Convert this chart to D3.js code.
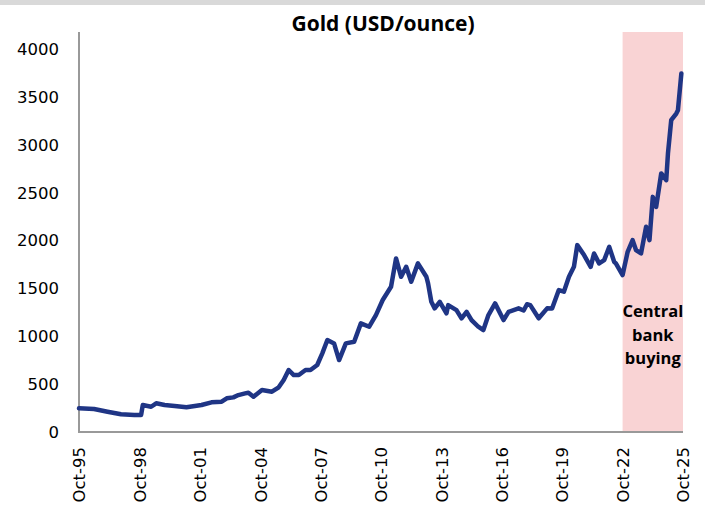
<!DOCTYPE html>
<html>
<head>
<meta charset="utf-8">
<script src="https://cdn.jsdelivr.net/npm/d3@7"></script>
<style>
  body { margin: 0; background: #fff; }
  svg { display: block; }
  .tick text { font-family: "DejaVu Sans", Verdana, sans-serif; fill: #000; }
</style>
</head>
<body>
<svg id="chart" width="705" height="506"></svg>
<script>
// Gold price, USD/ounce
const dates = [
  "1995-10","1996-07","1997-03","1997-11","1998-07","1998-11","1998-12","1999-05","1999-08","2000-01",
  "2000-07","2001-02","2001-11","2002-05","2002-11","2003-02","2003-06","2003-09","2004-01","2004-03",
  "2004-06","2004-11","2005-05","2005-09","2005-12","2006-03","2006-06","2006-09","2007-01","2007-04",
  "2007-08","2007-11","2008-02","2008-06","2008-09","2009-01","2009-06","2009-10","2010-03","2010-07",
  "2010-11","2011-04","2011-07","2011-10","2012-01","2012-04","2012-08","2013-01","2013-02","2013-04",
  "2013-06","2013-09","2014-01","2014-02","2014-07","2014-10","2015-01","2015-04","2015-08","2015-11",
  "2016-02","2016-06","2016-11","2017-02","2017-08","2017-11","2018-01","2018-03","2018-08","2019-01",
  "2019-04","2019-08","2019-11","2020-02","2020-05","2020-07","2020-11","2021-03","2021-05","2021-08",
  "2021-11","2022-02","2022-05","2022-06","2022-10","2023-01","2023-04","2023-06","2023-09","2023-12",
  "2024-02","2024-04","2024-06","2024-09","2024-12","2025-01","2025-03","2025-06","2025-07","2025-09"
];
const prices = [
  247, 240, 212, 185, 178, 178, 282, 264, 300, 282,
  272, 258, 282, 310, 317, 352, 362, 386, 404, 411,
  369, 439, 421, 467, 543, 648, 595, 595, 648, 648,
  700, 822, 961, 926, 752, 926, 943, 1135, 1100, 1222,
  1379, 1518, 1814, 1622, 1726, 1570, 1762, 1622, 1553, 1361,
  1292, 1361, 1240, 1326, 1274, 1188, 1256, 1170, 1100, 1065,
  1222, 1344, 1170, 1256, 1292, 1270, 1335, 1326, 1188, 1292,
  1290, 1483, 1466, 1622, 1726, 1953, 1849, 1726, 1866, 1762,
  1796, 1935, 1779, 1762, 1640, 1883, 2005, 1901, 1866, 2144,
  2005, 2457, 2353, 2702, 2632, 2910, 3258, 3328, 3363, 3746
];
const tickLabels = ["Oct-95","Oct-98","Oct-01","Oct-04","Oct-07","Oct-10","Oct-13","Oct-16","Oct-19","Oct-22","Oct-25"];
const yTicks = [0, 500, 1000, 1500, 2000, 2500, 3000, 3500, 4000];
const shadeRange = ["2022-10", "2025-10"];
const shadeText = ["Central", "bank", "buying"];

const parseMonth = d3.timeParse("%Y-%m");
const parseTick = d3.timeParse("%b-%y");
const data = dates.map((d, i) => ({ date: parseMonth(d), value: prices[i] }));

const svg = d3.select("#chart");
const margin = { left: 79, right: 22, top: 32, bottom: 74 };
const W = 705, H = 506;

// top grey strip (cropped header)
svg.append("rect").attr("x", 0).attr("y", 0).attr("width", W).attr("height", 5).attr("fill", "#d9d9d9");

const x = d3.scaleTime()
  .domain([parseMonth("1995-10"), parseMonth("2025-10")])
  .range([margin.left, W - margin.right]);
const y = d3.scaleLinear().domain([0, 4180]).range([H - margin.bottom, margin.top]);

// shaded period
svg.append("rect")
  .attr("x", x(parseMonth(shadeRange[0])))
  .attr("y", y(4180))
  .attr("width", x(parseMonth(shadeRange[1])) - x(parseMonth(shadeRange[0])))
  .attr("height", y(0) - y(4180))
  .attr("fill", "#f9d3d4");

const midX = (x(parseMonth(shadeRange[0])) + x(parseMonth(shadeRange[1]))) / 2;
svg.append("text")
  .attr("x", midX).attr("y", 317)
  .attr("text-anchor", "middle")
  .style("font-family", "'Open Sans', sans-serif").style("font-weight", "bold").style("font-size", "16.5px")
  .selectAll("tspan").data(shadeText).enter().append("tspan")
  .attr("x", midX).attr("dy", (d, i) => i ? 23.5 : 0)
  .text(d => d);

// axes
const yAxis = svg.append("g").attr("transform", `translate(${margin.left},0)`)
  .call(d3.axisLeft(y).tickValues(yTicks).tickSize(0).tickPadding(20).tickFormat(d3.format("d")));
yAxis.select(".domain").remove();
yAxis.selectAll("text").style("font-size", "16.5px");

const xAxis = svg.append("g").attr("transform", `translate(0,${y(0)})`)
  .call(d3.axisBottom(x).tickValues(tickLabels.map(parseTick)).tickSize(0).tickFormat(d3.timeFormat("%b-%y")));
xAxis.select(".domain").remove();
xAxis.selectAll("text")
  .style("font-size", "16.5px")
  .attr("transform", "rotate(-90)")
  .attr("text-anchor", "end")
  .attr("x", -15).attr("y", 0).attr("dy", "0.35em");

svg.append("line").attr("x1", margin.left).attr("x2", margin.left)
  .attr("y1", margin.top).attr("y2", y(0) + 1).attr("stroke", "#999").attr("stroke-width", 2);
svg.append("line").attr("x1", margin.left - 1).attr("x2", W - margin.right)
  .attr("y1", y(0)).attr("y2", y(0)).attr("stroke", "#999").attr("stroke-width", 2);

// price line
const line = d3.line().x(d => x(d.date)).y(d => y(d.value)).curve(d3.curveLinear);
svg.append("path").datum(data)
  .attr("d", line)
  .attr("fill", "none")
  .attr("stroke", "#1f3585")
  .attr("stroke-width", 4.5)
  .attr("stroke-linejoin", "round")
  .attr("stroke-linecap", "round");

// title
svg.append("text")
  .attr("x", 383).attr("y", 31)
  .attr("text-anchor", "middle")
  .style("font-family", "'Open Sans', sans-serif").style("font-weight", "bold").style("font-size", "21px")
  .text("Gold (USD/ounce)");
</script>
</body>
</html>
